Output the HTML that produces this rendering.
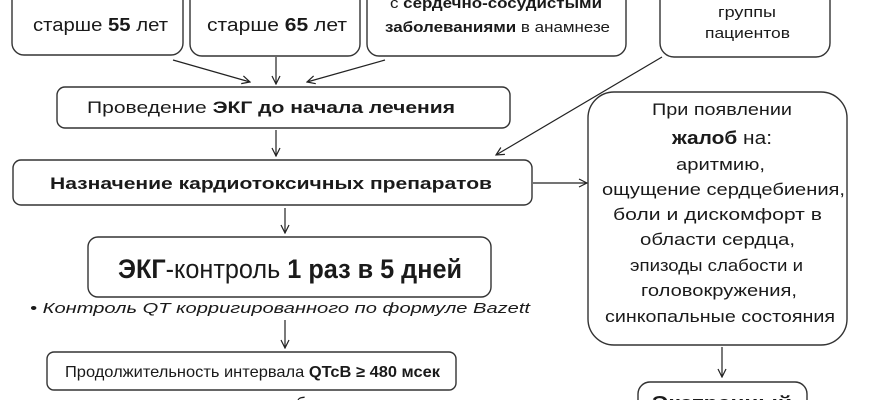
<!DOCTYPE html>
<html><head><meta charset="utf-8"><style>
html,body{margin:0;padding:0;background:#fff;width:870px;height:400px;overflow:hidden}
svg{display:block;overflow:hidden}
text{font-family:"Liberation Sans","DejaVu Sans",sans-serif;fill:#1a1a1a}
.b{font-weight:bold}
</style></head><body>
<svg width="870" height="400" viewBox="0 0 870 400" xmlns="http://www.w3.org/2000/svg">
<defs><marker id="a" markerWidth="10" markerHeight="10" refX="9" refY="5" orient="auto" markerUnits="userSpaceOnUse"><path d="M1,1 L9,5 L1,9" fill="none" stroke="#222" stroke-width="1.2"/></marker></defs>
<g fill="none" stroke="#333" stroke-width="1.4">
<rect x="12" y="-20" width="171" height="75" rx="12"/>
<rect x="190" y="-20" width="170" height="76" rx="12"/>
<rect x="367" y="-20" width="259" height="76" rx="12"/>
<rect x="660" y="-20" width="170" height="77" rx="14"/>
<rect x="57" y="87" width="453" height="41" rx="8"/>
<rect x="13" y="160" width="519" height="45" rx="8"/>
<rect x="588" y="92" width="259" height="253" rx="26"/>
<rect x="88" y="237" width="403" height="60" rx="10"/>
<rect x="47" y="352" width="409" height="38" rx="7"/>
<rect x="638" y="382" width="169" height="40" rx="12"/>
</g>
<g stroke="#222" stroke-width="1.2" marker-end="url(#a)">
<line x1="173" y1="60" x2="250" y2="82"/>
<line x1="276" y1="57" x2="276" y2="84"/>
<line x1="385" y1="60" x2="307" y2="82"/>
<line x1="662" y1="57" x2="496" y2="155"/>
<line x1="276" y1="130" x2="276" y2="156"/>
<line x1="533" y1="183" x2="587" y2="183"/>
<line x1="285" y1="208" x2="285" y2="233"/>
<line x1="285" y1="320" x2="285" y2="348"/>
<line x1="722" y1="347" x2="722" y2="377"/>
</g>
<text x="33" y="31" font-size="18" textLength="135" lengthAdjust="spacingAndGlyphs">старше <tspan class="b">55</tspan> лет</text>
<text x="207" y="31" font-size="18" textLength="140" lengthAdjust="spacingAndGlyphs">старше <tspan class="b">65</tspan> лет</text>
<text x="390" y="8" font-size="15" textLength="212" lengthAdjust="spacingAndGlyphs">с <tspan class="b">сердечно-сосудистыми</tspan></text>
<text x="385" y="32" font-size="15" textLength="225" lengthAdjust="spacingAndGlyphs"><tspan class="b">заболеваниями</tspan> в анамнезе</text>
<text x="718" y="17" font-size="15" textLength="58" lengthAdjust="spacingAndGlyphs">группы</text>
<text x="705" y="38" font-size="15" textLength="85" lengthAdjust="spacingAndGlyphs">пациентов</text>
<text x="87" y="113" font-size="17" textLength="368" lengthAdjust="spacingAndGlyphs">Проведение <tspan class="b">ЭКГ до начала лечения</tspan></text>
<text x="50" y="189" font-size="17" class="b" textLength="442" lengthAdjust="spacingAndGlyphs">Назначение кардиотоксичных препаратов</text>
<text x="652" y="115" font-size="17" textLength="140" lengthAdjust="spacingAndGlyphs">При появлении</text>
<text x="672" y="144" font-size="18" textLength="100" lengthAdjust="spacingAndGlyphs"><tspan class="b">жалоб</tspan> на:</text>
<text x="676" y="170" font-size="17" textLength="89" lengthAdjust="spacingAndGlyphs">аритмию,</text>
<text x="602" y="195" font-size="17" textLength="243" lengthAdjust="spacingAndGlyphs">ощущение сердцебиения,</text>
<text x="613" y="220" font-size="17" textLength="209" lengthAdjust="spacingAndGlyphs">боли и дискомфорт в</text>
<text x="640" y="245" font-size="17" textLength="155" lengthAdjust="spacingAndGlyphs">области сердца,</text>
<text x="630" y="271" font-size="17" textLength="173" lengthAdjust="spacingAndGlyphs">эпизоды слабости и</text>
<text x="641" y="296" font-size="17" textLength="156" lengthAdjust="spacingAndGlyphs">головокружения,</text>
<text x="605" y="322" font-size="17" textLength="230" lengthAdjust="spacingAndGlyphs">синкопальные состояния</text>
<text x="118" y="278" font-size="27" textLength="344" lengthAdjust="spacingAndGlyphs"><tspan class="b">ЭКГ</tspan>-контроль <tspan class="b">1 раз в 5 дней</tspan></text>
<text x="30" y="313" font-size="15" font-style="italic" textLength="500" lengthAdjust="spacingAndGlyphs">• Контроль QT корригированного  по формуле Bazett</text>
<text x="65" y="377" font-size="16" textLength="375" lengthAdjust="spacingAndGlyphs">Продолжительность интервала <tspan class="b">QTcB ≥ 480 мсек</tspan></text>
<text x="296" y="409" font-size="17">б</text>
<text x="652" y="409" font-size="18" class="b" textLength="140" lengthAdjust="spacingAndGlyphs">Экстренный</text>
</svg>
</body></html>
